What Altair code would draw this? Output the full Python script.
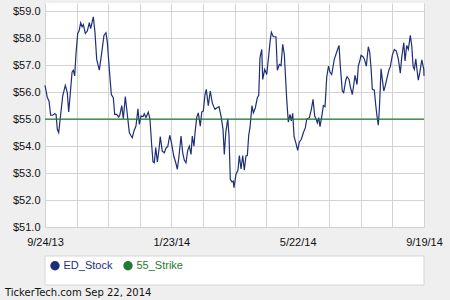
import altair as alt
import pandas as pd

# ---- data ----
days = [0, 2.2, 3.8, 5.4, 7.3, 9.2, 10.5, 11.7, 13, 14.9, 16.8, 19.3, 21.2, 22.5, 24.4, 25.7, 26.9, 28.2,
        29.5, 31.1, 32.3, 33.9, 35.2, 36.4, 38.3, 40.2, 42.1, 43.4, 45.9, 47.5, 49.1, 51.6, 53.9, 56,
        57.9, 59.2, 61.1, 63, 64.9, 66.2, 68.1, 70, 71.2, 72.9, 74.4, 76.3, 78.2, 80.1, 81.4, 82.9,
        84.5, 86.4, 88.3, 89.6, 91.2, 93.1, 94.3, 95.9, 98.1, 99.7, 101.4, 102.6, 103.8, 105.2, 106.7,
        108.3, 109.5, 111.4, 113.3, 115.2, 116.6, 118.5, 120.4, 122.3, 124.2, 125.7, 127.3, 129.2,
        130.8, 132.3, 133.9, 135.6, 137.1, 138.7, 139.9, 141.5, 142.5, 144.1, 145.6, 147.5, 148.9,
        150.4, 152, 153.2, 155.1, 157, 158.9, 160.3, 161.5, 163.4, 165.3, 167.2, 169.1, 170.3, 171.7,
        173.6, 174.8, 176, 177.6, 178.8, 179.5, 181.4, 183.3, 184.6, 186.2, 187.8, 189.3, 190.9,
        192.2, 193.5, 194.7, 196.6, 197.9, 199.8, 201.7, 203, 204.2, 205.9, 206.8, 208.7, 210.6,
        212.5, 213.7, 215, 216.9, 219.4, 220.7, 222.6, 224.2, 225.8, 227.3, 229.6, 231.1, 232.7,
        234, 235.3, 236.6, 238.4, 240, 241.6, 243.5, 245.4, 247.3, 248.6, 251.1, 253, 254.6, 256.2,
        257.5, 258.7, 260, 261.2, 263.2, 264.4, 266, 267.6, 269.3, 270.7, 272.3, 274.8, 277.4,
        279.3, 280.5, 282.4, 283.7, 285.7, 286.9, 288.8, 290, 291.9, 293.3, 294.5, 296.4, 297.6,
        299, 300.2, 302.1, 303.3, 305.2, 307.1, 308.4, 309.7, 310.9, 312.8, 314.2, 315.4, 316.6,
        317.6, 319.2, 320.4, 321.8, 323, 324.9, 326.8, 328, 329.9, 331.8, 333.7, 335.6, 337.5,
        338.8, 340.8, 342, 343.6, 345.1, 347, 348.4, 349.6, 350.8, 352.2, 353.4, 354.6, 356, 357.9,
        359.8, 360]
prices = [56.25, 55.8, 55.67, 55.14, 55.14, 55.2, 55.17, 54.62, 54.5, 55.17, 55.85, 56.25, 55.98,
          55.26, 56.12, 56.74, 56.81, 56.6, 57.46, 58.17, 58.26, 58.57, 58.42, 58.5, 58.17, 58.26,
          58.57, 58.35, 58.79, 58.2, 57.21, 56.81, 57.46, 58.1, 58.2, 57.85, 56.84, 55.91, 55.79,
          55.17, 55.17, 55.07, 55.17, 55.5, 55.01, 55.83, 55.17, 54.5, 54.4, 54.31, 54.56, 54.74,
          55.38, 54.8, 55.11, 55.09, 55.2, 55.06, 55.26, 55.0, 54.0, 53.41, 53.38, 53.94, 53.41,
          53.88, 54.35, 53.81, 53.75, 53.94, 53.98, 54.4, 54.06, 53.63, 53.38, 53.14, 53.63, 54.37,
          53.75, 53.48, 53.38, 53.85, 54.0, 53.69, 54.37, 54.0, 54.49, 55.06, 55.23, 54.74, 55.26,
          55.3, 55.91, 56.1, 55.5, 56.04, 55.6, 55.46, 55.36, 55.42, 55.46, 55.11, 54.62, 53.69,
          54.49, 55.01, 54.37, 52.77, 52.67, 52.7, 52.46, 52.95, 53.11, 53.65, 53.15, 53.65, 53.11,
          53.63, 53.65, 54.4, 54.68, 55.5, 55.23, 55.42, 55.79, 55.88, 57.27, 57.58, 56.47, 56.84,
          56.65, 57.36, 57.83, 58.22, 58.05, 58.05, 56.81, 57.02, 56.98, 57.77, 57.4, 55.73, 54.89,
          55.17, 54.93, 55.21, 54.35, 54.1, 53.84, 54.15, 54.25, 54.49, 54.68, 55.0, 55.05, 55.36,
          55.73, 55.11, 55.0, 54.86, 55.05, 54.72, 55.17, 55.5, 55.46, 56.55, 56.96, 56.74, 56.65,
          57.21, 57.52, 57.73, 56.96, 56.04, 55.98, 56.44, 56.57, 56.47, 56.2, 55.91, 56.28, 56.62,
          56.28, 56.96, 57.15, 57.36, 57.31, 57.23, 56.96, 57.68, 57.48, 56.9, 56.1, 56.07, 55.5,
          55.09, 54.77, 55.36, 56.86, 56.47, 56.04, 56.2, 56.53, 56.84, 56.94, 57.36, 57.58, 57.52,
          57.23, 56.7, 57.27, 57.83, 57.15, 57.73, 57.58, 58.1, 57.7, 56.96, 56.84, 57.23, 56.81,
          56.44, 56.72, 57.19, 56.84, 56.6]
strike_days = [0, 360]
strike_values = [55.0, 55.0]
series_names = ["ED_Stock", "55_Strike"]
series_colors = ["#1d2f78", "#1f7a32"]
x_grid_days = [0, 30, 60, 90, 120, 150, 180, 210, 240, 270, 300, 330, 360]
x_label_days = [0, 120, 240, 360]
x_label_text = ["9/24/13", "1/23/14", "5/22/14", "9/19/14"]
y_ticks = [51, 52, 53, 54, 55, 56, 57, 58, 59]
footer = "TickerTech.com  Sep 22, 2014"

W, H = 379, 224
FONT = "Liberation Sans"

stock = pd.DataFrame({"day": days, "price": prices, "series": "ED_Stock"})
strike = pd.DataFrame({"day": strike_days, "price": strike_values, "series": "55_Strike"})

label_expr = "''"
for d, t in reversed(list(zip(x_label_days, x_label_text))):
    label_expr = f"datum.value == {d} ? '{t}' : ({label_expr})"

x_enc = alt.X("day:Q", scale=alt.Scale(domain=[0, 360], nice=False, zero=False),
              axis=alt.Axis(values=x_grid_days, labelExpr=label_expr, title=None, ticks=False,
                            domain=False, labelPadding=9, labelOverlap=False, labelBound=False,
                            labelFlush=False))
y_enc = alt.Y("price:Q", scale=alt.Scale(domain=[51, 59.3], nice=False, zero=False),
              axis=alt.Axis(values=y_ticks, format="$.1f", title=None, ticks=False,
                            domain=False, labelPadding=5))

color_expr = f"datum.value === '{series_names[0]}' ? '{series_colors[0]}' : '{series_colors[1]}'"
color_enc = alt.Color("series:N", scale=alt.Scale(domain=series_names, range=series_colors),
                      legend=alt.Legend(title=None, orient="none", legendX=4.5, legendY=257,
                                        direction="horizontal", symbolType="circle",
                                        symbolSize=88, symbolStrokeWidth=0,
                                        symbolFillColor=alt.ExprRef(color_expr),
                                        labelColor=alt.ExprRef(color_expr),
                                        labelFont=FONT, labelFontSize=11, labelOffset=3,
                                        columnPadding=10, padding=0))

legend_box = alt.Chart(pd.DataFrame({"k": [0]})).mark_rect(
    fill="white", stroke="#d6d6d6", strokeWidth=1
).encode(x=alt.value(0), x2=alt.value(W), y=alt.value(253), y2=alt.value(282))

stock_line = alt.Chart(stock).mark_line(strokeWidth=1.2).encode(x=x_enc, y=y_enc, color=color_enc)
strike_line = alt.Chart(strike).mark_line(strokeWidth=1.3).encode(x=x_enc, y=y_enc, color=color_enc)

footer_text = alt.Chart(pd.DataFrame({"t": [footer]})).mark_text(
    align="left", baseline="middle", font="DejaVu Sans", fontSize=10, color="#111111"
).encode(text="t:N", x=alt.value(-40), y=alt.value(290))

chart = alt.layer(legend_box, stock_line, strike_line, footer_text).properties(
    width=W, height=H,
    autosize=alt.AutoSizeParams(type="none"),
    padding={"left": 45, "top": 3, "right": 26, "bottom": 73},
    background="#efefef",
).configure_view(stroke=None, fill="white").configure_axis(
    labelFont=FONT, labelFontSize=11, labelColor="#111111", gridColor="#d3d3d3", gridWidth=1
)

chart.save("out.html", embed_options={"renderer": "svg", "actions": False})
